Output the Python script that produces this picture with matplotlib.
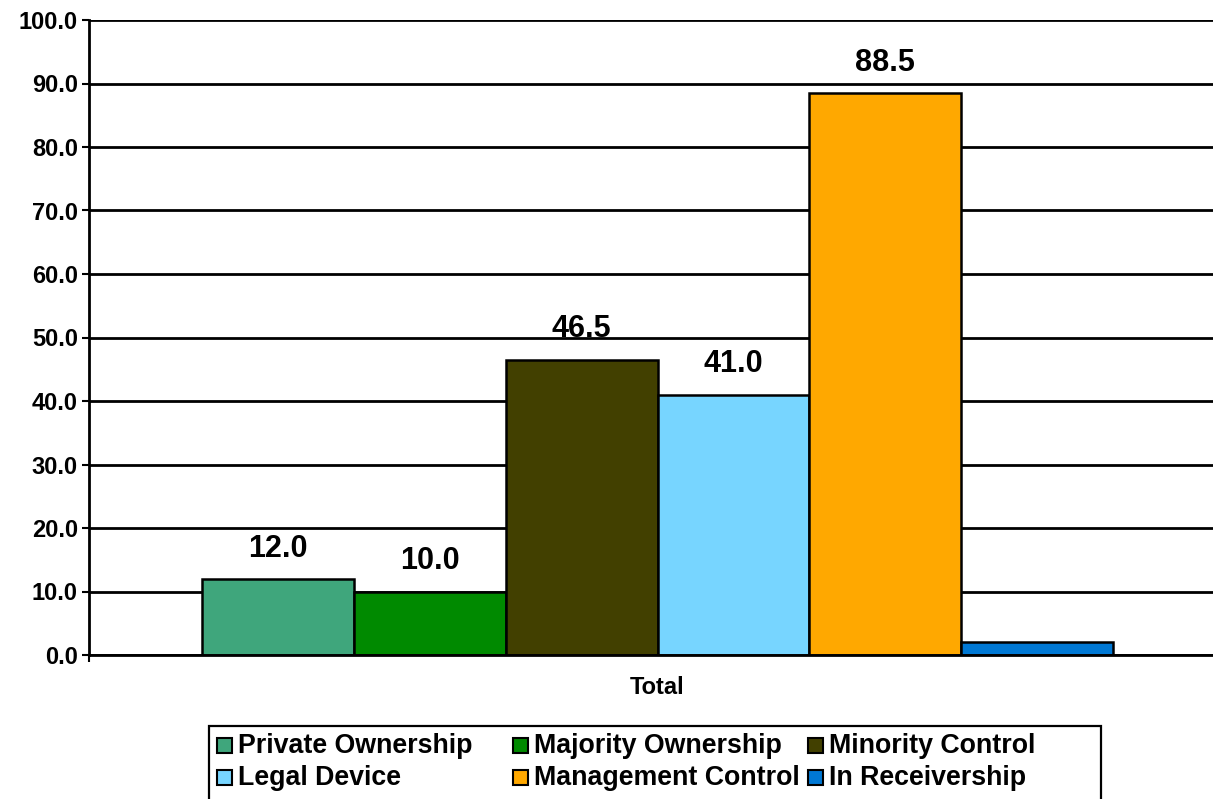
import matplotlib
matplotlib.use("Agg")
import matplotlib.pyplot as plt
from matplotlib.patches import Rectangle
import numpy as np

plt.rcParams['font.family'] = ['Liberation Sans', 'DejaVu Sans']
plt.rcParams['font.weight'] = 'bold'

category = "Total"
series = ["Private Ownership", "Majority Ownership", "Minority Control",
          "Legal Device", "Management Control", "In Receivership"]
values = [12.0, 10.0, 46.5, 41.0, 88.5, 2.0]
shown = [True, True, True, True, True, False]
colors = ["#3FA67C", "#008A00", "#424000", "#77D5FF", "#FFA800", "#0078D4"]
yticks = np.arange(0, 101, 10)

W, H = 1213, 799
fig = plt.figure(figsize=(W / 100, H / 100), dpi=100)
# axes runs a little past the right edge so the grid lines reach the border
ax = fig.add_axes([89 / W, 1 - 655 / H, (1226 - 89) / W, (655 - 20) / H])

n = len(values)
offsets = np.arange(n) - (n - 1) / 2
bars = ax.bar(offsets, values, width=1.0, color=colors,
              edgecolor="black", linewidth=1.8, zorder=3)

for b, v, s in zip(bars, values, shown):
    if s:
        ax.annotate(f"{v:.1f}", (b.get_x() + b.get_width() / 2, v),
                    xytext=(0, 11), textcoords="offset points",
                    ha="center", va="bottom", fontsize=22, fontweight="bold")

ax.set_ylim(0, 100)
ax.set_xlim(-3.745, 3.745)
ax.set_yticks(yticks)
ax.set_yticklabels([f"{t:.1f}" for t in yticks], fontsize=17, fontweight="bold")
ax.yaxis.grid(True, color="black", linewidth=2.0, zorder=0)
ax.tick_params(axis="y", length=5, width=1.5, pad=3)

ax.set_xticks([0])
ax.set_xticklabels([category], fontsize=17, fontweight="bold")
ax.tick_params(axis="x", which="major", length=0, pad=15)
ax.set_xticks([-3.745], minor=True)
ax.tick_params(axis="x", which="minor", length=5, width=1.5)

for side in ["top", "right"]:
    ax.spines[side].set_visible(False)
ax.spines["left"].set_linewidth(2.0)
ax.spines["bottom"].set_linewidth(2.0)
ax.spines["bottom"].set_zorder(4)

# legend box drawn by hand in figure pixels, three fixed-width columns
frame = Rectangle((209 / W, -0.05), (1101 - 209) / W, 1 - 726 / H + 0.05,
                  transform=fig.transFigure, fill=False, edgecolor="black",
                  linewidth=1.6, clip_on=False)
fig.add_artist(frame)
col_x = [217, 513, 808]
row_y = [745, 777]
sq = 15
for i, (name, c) in enumerate(zip(series, colors)):
    cx = col_x[i % 3]
    cy = row_y[i // 3]
    fig.add_artist(Rectangle((cx / W, 1 - (cy + sq / 2) / H), sq / W, sq / H,
                             transform=fig.transFigure, facecolor=c,
                             edgecolor="black", linewidth=1.5))
    fig.text((cx + sq + 6) / W, 1 - (cy + 1) / H, name, fontsize=19.3,
             fontweight="bold", ha="left", va="center")

fig.savefig("out.png", dpi=100)
